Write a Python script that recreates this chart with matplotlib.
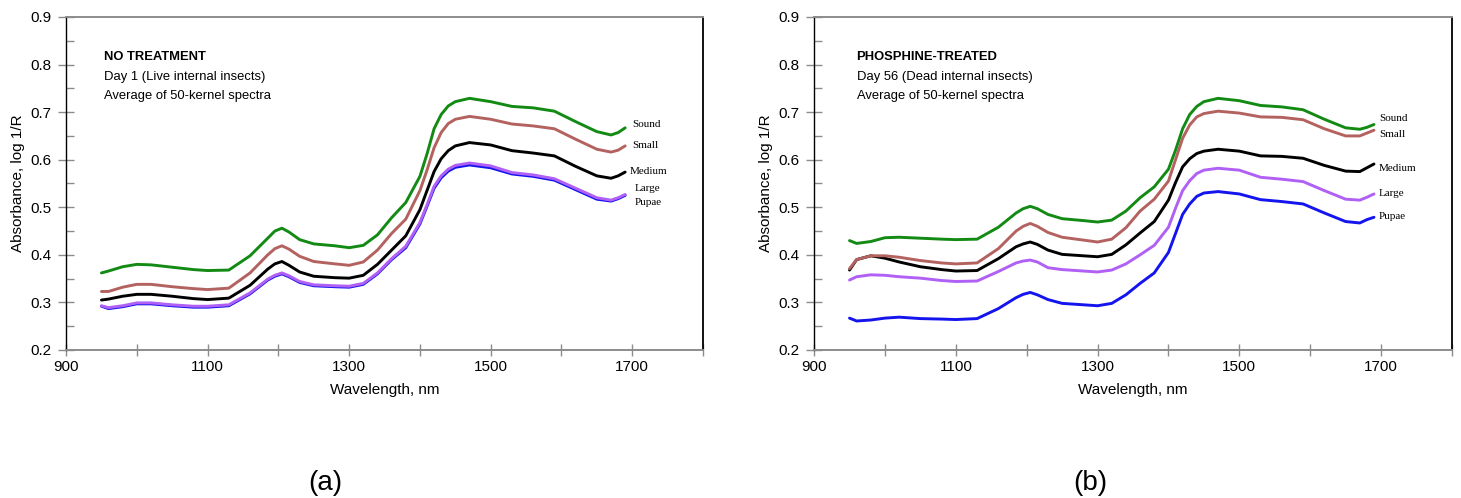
import matplotlib
matplotlib.use("Agg")
import matplotlib.pyplot as plt
from matplotlib.ticker import MultipleLocator, FormatStrFormatter

plt.rcParams["font.family"] = ["Liberation Sans", "DejaVu Sans"]

# wavelength grid, nm (shared by both panels)
wavelength = [950, 960, 980, 1000, 1020, 1050, 1080, 1100, 1130, 1160, 1185, 1195,
              1205, 1215, 1230, 1250, 1280, 1300, 1320, 1340, 1360, 1380, 1400,
              1410, 1420, 1430, 1440, 1450, 1470, 1500, 1530, 1560, 1590, 1620,
              1650, 1670, 1680, 1690]

# (a) no treatment, day 1
a_sound = [.362, .366, .375, .380, .379, .374, .369, .367, .368, .398, .435, .450,
           .456, .448, .432, .423, .419, .415, .420, .442, .478, .510, .565,
           .612, .665, .695, .713, .722, .729, .722, .712, .709, .702, .680,
           .659, .652, .657, .667]
a_small = [.323, .323, .332, .338, .338, .333, .329, .327, .330, .362, .400, .413,
           .419, .412, .397, .386, .381, .378, .385, .410, .445, .475, .535,
           .578, .625, .657, .676, .685, .691, .685, .675, .671, .665, .643,
           .622, .616, .620, .629]
a_medium = [.305, .307, .313, .317, .317, .313, .308, .306, .309, .336, .370, .381,
            .386, .378, .364, .355, .352, .351, .357, .380, .410, .440, .495,
            .535, .575, .602, .619, .629, .636, .631, .619, .614, .608, .586,
            .566, .561, .566, .574]
a_large = [.293, .289, .293, .299, .299, .295, .292, .292, .295, .320, .349, .357,
           .362, .356, .344, .337, .335, .334, .340, .362, .392, .418, .468,
           .505, .544, .566, .580, .588, .593, .587, .573, .568, .560, .540,
           .520, .515, .520, .527]
a_pupae = [.292, .287, .291, .297, .297, .293, .290, .290, .293, .318, .347, .355,
           .360, .354, .342, .335, .333, .332, .338, .360, .390, .415, .465,
           .502, .540, .562, .576, .584, .589, .583, .570, .565, .557, .537,
           .517, .513, .518, .525]

# (b) phosphine-treated, day 56
b_sound = [.430, .424, .428, .436, .437, .435, .433, .432, .433, .458, .488, .497,
           .502, .497, .485, .476, .472, .469, .473, .492, .520, .543, .580,
           .620, .665, .695, .712, .722, .729, .724, .714, .711, .705, .685,
           .667, .664, .668, .674]
b_small = [.371, .390, .398, .398, .395, .388, .383, .381, .383, .413, .450, .460,
           .466, .460, .447, .437, .431, .427, .433, .457, .492, .517, .555,
           .600, .645, .673, .690, .697, .702, .698, .690, .689, .684, .665,
           .650, .650, .656, .662]
b_medium = [.368, .390, .398, .393, .385, .375, .369, .366, .367, .392, .417, .423,
            .427, .422, .410, .401, .398, .396, .401, .421, .446, .470, .515,
            .552, .585, .602, .613, .618, .622, .618, .608, .607, .603, .588,
            .576, .575, .583, .591]
b_large = [.347, .354, .358, .357, .354, .351, .346, .344, .345, .365, .383, .387,
           .389, .385, .373, .369, .366, .364, .368, .381, .400, .420, .458,
           .498, .535, .556, .571, .578, .582, .578, .563, .559, .554, .535,
           .517, .515, .521, .528]
b_pupae = [.267, .261, .263, .267, .269, .266, .265, .264, .266, .287, .310, .317,
           .321, .316, .306, .298, .295, .293, .298, .316, .340, .362, .405,
           .445, .485, .507, .523, .530, .533, .528, .516, .512, .507, .488,
           .470, .467, .474, .479]

names = ["Sound", "Small", "Medium", "Large", "Pupae"]
colors = ["#138a13", "#b3625f", "#000000", "#b060f5", "#1414ee"]

a_label_xy = [(1700, .675), (1700, .629), (1697, .576), (1703, .540), (1703, .509)]
b_label_xy = [(1697, .686), (1697, .652), (1697, .581), (1697, .528), (1697, .480)]

a_text = ["NO TREATMENT", "Day 1 (Live internal insects)", "Average of 50-kernel spectra"]
b_text = ["PHOSPHINE-TREATED", "Day 56 (Dead internal insects)", "Average of 50-kernel spectra"]

panels = [
    dict(pos=[0.0452, 0.2972, 0.4360, 0.6687], series=[a_sound, a_small, a_medium, a_large, a_pupae],
         labels=a_label_xy, text=a_text, text_x=953, tag="(a)", tag_x=0.2225),
    dict(pos=[0.5572, 0.2972, 0.4366, 0.6687], series=[b_sound, b_small, b_medium, b_large, b_pupae],
         labels=b_label_xy, text=b_text, text_x=960, tag="(b)", tag_x=0.7460),
]

fig = plt.figure(figsize=(14.61, 4.98), dpi=100)
gray = "#8c8c8c"

for p in panels:
    ax = fig.add_axes(p["pos"])
    # pupae drawn first so the large curve sits on top, as in the source
    for vals, col in reversed(list(zip(p["series"], colors))):
        ax.plot(wavelength, vals, color=col, lw=2.1,
                solid_capstyle="round", solid_joinstyle="round")
    for (lx, ly), name in zip(p["labels"], names):
        ax.text(lx, ly, name, fontsize=8, family=["Liberation Serif", "DejaVu Serif"],
                ha="left", va="center")

    ax.text(p["text_x"], 0.816, p["text"][0], fontsize=9.4, fontweight="bold", va="center")
    ax.text(p["text_x"], 0.774, p["text"][1], fontsize=9.4, va="center")
    ax.text(p["text_x"], 0.734, p["text"][2], fontsize=9.4, va="center")

    ax.set_xlim(900, 1800)
    ax.set_ylim(0.2, 0.9)
    ax.set_xticks([900, 1100, 1300, 1500, 1700])
    ax.xaxis.set_minor_locator(MultipleLocator(100))
    ax.yaxis.set_major_locator(MultipleLocator(0.1))
    ax.yaxis.set_minor_locator(MultipleLocator(0.05))
    ax.yaxis.set_major_formatter(FormatStrFormatter("%.1f"))
    ax.tick_params(axis="y", which="major", direction="inout", length=11, width=1,
                   color=gray, labelsize=11, pad=5)
    ax.tick_params(axis="y", which="minor", direction="in", length=6, width=1, color=gray)
    ax.tick_params(axis="x", which="both", direction="inout", length=9, width=1,
                   color=gray, labelsize=11, pad=3)

    ax.spines["left"].set_color("black")
    ax.spines["right"].set_color("black")
    ax.spines["left"].set_linewidth(1.0)
    ax.spines["right"].set_linewidth(1.3)
    ax.spines["top"].set_color(gray)
    ax.spines["bottom"].set_color(gray)
    ax.spines["top"].set_linewidth(1.4)
    ax.spines["bottom"].set_linewidth(1.4)

    ax.set_xlabel("Wavelength, nm", fontsize=11, labelpad=6)
    ax.set_ylabel("Absorbance, log 1/R", fontsize=11, labelpad=4)

    fig.text(p["tag_x"], 0.03, p["tag"], fontsize=20, ha="center", va="center")

fig.savefig("out.png", dpi=100)
